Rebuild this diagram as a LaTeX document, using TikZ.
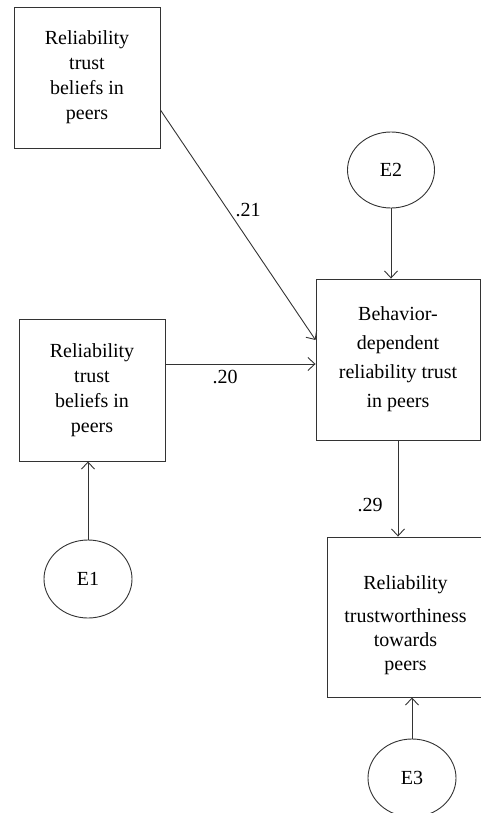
\documentclass[tikz,border=0pt]{standalone}
\usepackage{fontspec}
\setmainfont{Liberation Serif}
\usetikzlibrary{arrows.meta,shapes.geometric}
\begin{document}
\begin{tikzpicture}[x=1pt,y=-1pt,
    every node/.style={font=\fontsize{20}{25}\selectfont},
    varbox/.style={draw=black!80,line width=0.9pt,rectangle,align=center,inner sep=0pt},
    errnode/.style={draw=black!80,line width=0.9pt,ellipse,inner sep=0pt,minimum width=88pt,minimum height=78pt},
    path/.style={draw=black!80,line width=0.9pt,-{Straight Barb[length=7pt,width=13pt]}}]
      \useasboundingbox (0,0) rectangle (481,813);
      \clip (0,0) rectangle (481,813);
      \node[varbox,minimum width=146pt,minimum height=141pt] (rtb1) at (87,77.5) {Reliability\\trust\\beliefs in\\peers};
      \node[varbox,minimum width=146pt,minimum height=142pt] (rtb2) at (92,390) {Reliability\\trust\\beliefs in\\peers};
      \node[varbox,minimum width=164pt,minimum height=161pt,font=\fontsize{20}{29}\selectfont] (bdrt) at (398,359.5) {Behavior-\\dependent\\reliability trust\\in peers};
      \node[varbox,minimum width=157pt,minimum height=160pt] (rtw) at (405.5,617) {};
      \node[align=center,font=\fontsize{20}{24}\selectfont] (rtwtext) at ([yshift=-8pt]rtw.center) {Reliability\\[9pt]trustworthiness\\towards\\peers};
      \node[errnode] (e1) at (88,579) {E1};
      \node[errnode,minimum width=87pt,minimum height=76pt] (e2) at (391,170) {E2};
      \node[errnode] (e3) at (412,778) {E3};
      \draw[path] ([yshift=-32.5pt]rtb1.east) -- ([yshift=19.5pt]bdrt.west);
      \draw[path] ([yshift=26pt]rtb2.east) -- ([yshift=26pt]rtb2.east -| bdrt.west);
      \draw[path] (e2.south) -- (e2.south |- bdrt.north);
      \draw[path] (bdrt.south) -- (bdrt.south |- rtw.north);
      \draw[path] (e1.north) -- (e1.north |- rtb2.south);
      \draw[path] (e3.north) -- (e3.north |- rtw.south);
      \node (w21) at (248,210) {.21};
      \node (w20) at (225,377) {.20};
      \node (w29) at (370,505) {.29};
\end{tikzpicture}
\end{document}
